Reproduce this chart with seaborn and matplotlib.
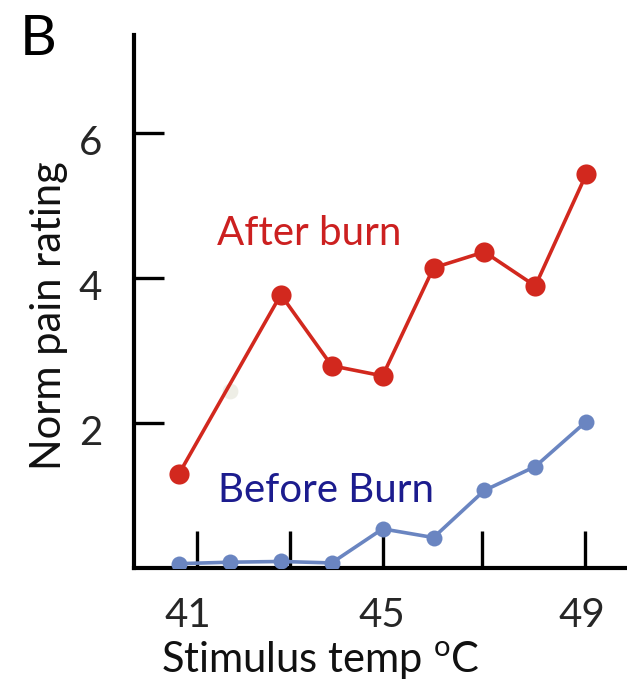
import matplotlib
matplotlib.use("Agg")
import matplotlib.pyplot as plt
import matplotlib.transforms as mtransforms
import seaborn as sns

# ---- data ----
temps = [41, 42, 43, 44, 45, 46, 47, 48, 49]
after_temps = [41, 43, 44, 45, 46, 47, 48, 49]
after_burn = [1.30, 3.77, 2.79, 2.65, 4.14, 4.36, 3.89, 5.43]
before_burn = [0.06, 0.08, 0.09, 0.07, 0.54, 0.42, 1.07, 1.40, 2.02]
ghost_temps = [42]
ghost_vals = [2.44]
x_label_ticks = [41, 45, 49]
y_ticks = [2, 4, 6]

sns.set_style("ticks")
plt.rcParams["font.family"] = ["Lato", "DejaVu Sans"]
plt.rcParams["mathtext.fontset"] = "custom"
plt.rcParams["mathtext.rm"] = "Lato"

W, H = 627, 681
fig = plt.figure(figsize=(W / 100, H / 100), dpi=100)
L, R, T, B = 134, 627, 35, 568
ax = fig.add_axes([L / W, 1 - B / H, (R - L) / W, (B - T) / H])

red = "#d2281e"
blue = "#6a85c1"

sns.scatterplot(x=ghost_temps, y=ghost_vals, ax=ax, color="#eeeee6", s=130,
                linewidth=0, zorder=1)
sns.lineplot(x=after_temps, y=after_burn, ax=ax, color=red, linewidth=2.6,
             marker="o", markersize=14.5, markeredgewidth=0, zorder=3)
sns.lineplot(x=temps, y=before_burn, ax=ax, color=blue, linewidth=2.6,
             marker="o", markersize=11.5, markeredgewidth=0, zorder=3)

# axis limits mapped from pixel geometry
px_per_deg = 50.9
x0 = 41 - (179 - L) / px_per_deg
x1 = 41 + (R - 179) / px_per_deg
px_per_unit = 72.5
ax.set_xlim(x0, x1)
ax.set_ylim(0, (B - T) / px_per_unit)

for s in ["top", "right"]:
    ax.spines[s].set_visible(False)
for s in ["left", "bottom"]:
    ax.spines[s].set_linewidth(3.0)
    ax.spines[s].set_color("black")

# x tick marks (hand-placed in original) and labels
tick_marks_x = [41.35, 43.18, 45.0, 46.95, 48.98]
ax.set_xticks(tick_marks_x)
ax.set_xticklabels([])
ax.set_xticks([41.18, 44.99, 48.92], minor=True)
ax.set_xticklabels([str(v) for v in x_label_ticks], minor=True)
ax.tick_params(axis="x", which="major", direction="in", length=26.5, width=2.4,
               color="black", bottom=True)
ax.tick_params(axis="x", which="minor", length=0, pad=21, labelsize=29,
               bottom=True)

ax.set_yticks(y_ticks)
ax.set_yticklabels([str(v) for v in y_ticks])
ax.tick_params(axis="y", direction="in", length=21.5, width=2.4, color="black",
               pad=23, labelsize=29, left=True)
offset = mtransforms.ScaledTranslation(0, -0.07, fig.dpi_scale_trans)
for lbl in ax.get_yticklabels():
    lbl.set_transform(lbl.get_transform() + offset)

ax.set_xlabel(r"Stimulus temp $^{\mathrm{o}}$C", fontsize=30, color="#111111")
ax.xaxis.label.set_va("baseline")
ax.xaxis.set_label_coords((320 - L) / (R - L), (B - 673) / (B - T))
ax.set_ylabel("Norm pain rating", fontsize=30, color="#111111")
ax.yaxis.label.set_va("baseline")
ax.yaxis.set_label_coords((61 - L) / (R - L), (B - 316) / (B - T))

ax.text((217 - L) / (R - L), (B - 245) / (B - T), "After burn",
        transform=ax.transAxes, color="#cc2020", fontsize=29, va="baseline")
ax.text((218 - L) / (R - L), (B - 502) / (B - T), "Before Burn",
        transform=ax.transAxes, color="#1c1c8e", fontsize=29, va="baseline")

fig.text(20 / W, 1 - 55 / H, "B", fontsize=41, va="baseline", ha="left",
         color="black")

fig.savefig("out.png", dpi=100)
